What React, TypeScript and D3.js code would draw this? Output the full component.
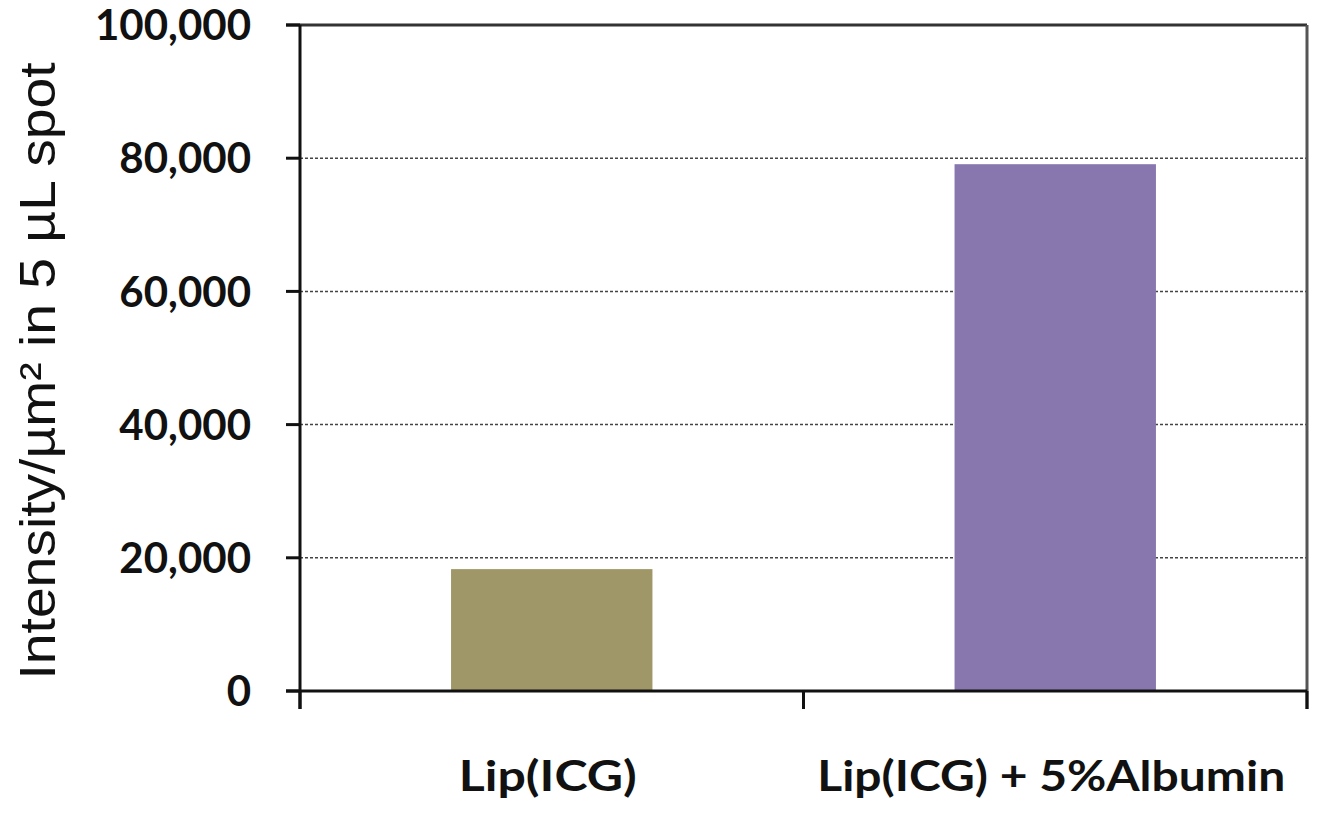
import React from "react";
import * as d3 from "d3";

const categories = ["Lip(ICG)", "Lip(ICG) + 5%Albumin"];
const values = [18300, 79100];
const barColors = ["#9f9767", "#8877ae"];
const yTicks = [0, 20000, 40000, 60000, 80000, 100000];
const yTitle = "Intensity/µm² in 5 µL spot";

export default function App() {
  const W = 1321, H = 814;
  const left = 300, right = 1307, top = 25, bottom = 691;
  const y = d3.scaleLinear().domain([0, 100000]).range([bottom, top]);
  const x = d3.scaleBand().domain(categories).range([left, right]).paddingInner(0.6).paddingOuter(0.3);
  const fmt = d3.format(",");
  const bandEdges = [left, (left + right) / 2, right];
  const labelLens = [178, 468];
  return (
    <svg width={W} height={H} style={{ position: "absolute", left: 0, top: 0, background: "#fff" }}>
      {yTicks.filter(t => t > 0 && t < 100000).map(t => (
        <line key={"g" + t} x1={left} x2={right} y1={y(t)} y2={y(t)} stroke="#444" strokeWidth={1.5} strokeDasharray="3,2" />
      ))}
      {categories.map((c, i) => (
        <rect key={c} x={x(c)} y={y(values[i])} width={x.bandwidth()} height={bottom - y(values[i])} fill={barColors[i]} />
      ))}
      <line x1={left - 14} x2={right} y1={top} y2={top} stroke="#333" strokeWidth={3} />
      <line x1={right} x2={right} y1={top} y2={bottom + 18} stroke="#555" strokeWidth={3} />
      <line x1={left} x2={left} y1={top} y2={bottom + 18} stroke="#111" strokeWidth={3} />
      <line x1={left - 14} x2={right} y1={bottom} y2={bottom} stroke="#111" strokeWidth={3} />
      {yTicks.map(t => (
        <g key={"t" + t}>
          <line x1={left - 14} x2={left} y1={y(t)} y2={y(t)} stroke="#111" strokeWidth={3} />
          <text x={251} y={y(t)} dy="0.36em" textAnchor="end" fontFamily="Lato, 'Open Sans', sans-serif" fontWeight="bold" fontSize={42} fill="#111">{fmt(t)}</text>
        </g>
      ))}
      {bandEdges.map((bx, i) => (
        <line key={"c" + i} x1={bx} x2={bx} y1={bottom} y2={bottom + 18} stroke="#111" strokeWidth={3} />
      ))}
      {categories.map((c, i) => (
        <text key={"l" + c} x={x(c)! + x.bandwidth() / 2 - 4} y={791} textAnchor="middle" fontFamily="Lato, 'Open Sans', sans-serif" fontWeight="bold" fontSize={42} textLength={labelLens[i]} lengthAdjust="spacingAndGlyphs" fill="#111">{c}</text>
      ))}
      <text transform={`translate(55,${371}) rotate(-90)`} textAnchor="middle" fontFamily="'Liberation Sans', Arial, sans-serif" fontSize={50} textLength={617} lengthAdjust="spacingAndGlyphs" fill="#111">{yTitle}</text>
    </svg>
  );
}
